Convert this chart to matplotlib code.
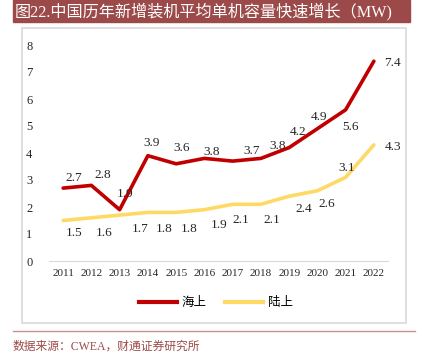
import matplotlib
matplotlib.use("Agg")
from matplotlib import pyplot as plt
from matplotlib.patches import Rectangle
from matplotlib.lines import Line2D

plt.rcParams['font.family'] = ['Liberation Serif', 'Noto Sans CJK SC']

years = ["2011", "2012", "2013", "2014", "2015", "2016",
         "2017", "2018", "2019", "2020", "2021", "2022"]
offshore = [2.7, 2.8, 1.9, 3.9, 3.6, 3.8, 3.7, 3.8, 4.2, 4.9, 5.6, 7.4]
onshore = [1.5, 1.6, 1.7, 1.8, 1.8, 1.9, 2.1, 2.1, 2.4, 2.6, 3.1, 4.3]
yticks = [0, 1, 2, 3, 4, 5, 6, 7, 8]

# label offsets in pixels (as placed in the original chart)
off_red = [(11, 10), (11, 10), (5, 16), (4, 13), (5, 16), (7, 6),
           (19, 10), (17, 12), (9, 16), (2, 12), (5, -17), (19, -2)]
off_yel = [(11, -12), (13, -15), (21, -14), (16, -17), (13, -17), (15, -15),
           (8, -16), (11, -16), (15, -13), (9, -13), (1, 9), (19, -2)]

W, H = 423, 355
fig = plt.figure(figsize=(W / 100, H / 100), dpi=100)

# title bar
fig.patches.append(Rectangle((13 / W, 1 - 22 / H), 397 / W, 22 / H,
                             transform=fig.transFigure, color="#9c4a49", zorder=0))
fig.text(15 / W, 1 - 11.5 / H, "图22.中国历年新增装机平均单机容量快速增长（MW)",
         color="white", fontsize=11.6, va="center", ha="left")

# chart frame
fig.patches.append(Rectangle((22 / W, 1 - 323 / H), 384 / W, 295 / H,
                             transform=fig.transFigure, fill=False,
                             edgecolor="#d9d9d9", linewidth=1.2, zorder=0))

ax = fig.add_axes([49 / W, 1 - 261 / H, 339 / W, 216 / H])
x = list(range(len(years)))
ax.plot(x, offshore, color="#c00000", linewidth=2.6, solid_capstyle="round")
ax.plot(x, onshore, color="#ffd966", linewidth=2.6, solid_capstyle="round")

for i, v in enumerate(offshore):
    ax.annotate(f"{v}", (i, v), xytext=off_red[i], textcoords="offset pixels",
                ha="center", va="center", fontsize=9.5, color="#262626")
for i, v in enumerate(onshore):
    ax.annotate(f"{v}", (i, v), xytext=off_yel[i], textcoords="offset pixels",
                ha="center", va="center", fontsize=9.5, color="#262626")

ax.set_xlim(-0.5, len(years) - 0.5)
ax.set_ylim(0, 8)
ax.set_xticks(x)
ax.set_xticklabels(years, fontsize=8)
ax.set_yticks(yticks)
ax.set_yticklabels([str(t) for t in yticks], fontsize=9)
for s in ["top", "right", "left"]:
    ax.spines[s].set_visible(False)
ax.spines["bottom"].set_color("#d9d9d9")
ax.tick_params(axis="both", length=0, colors="#262626")
ax.tick_params(axis="y", pad=12)
ax.tick_params(axis="x", pad=6)

handles = [Line2D([], [], color="#c00000", linewidth=3),
           Line2D([], [], color="#ffd966", linewidth=3)]
fig.legend(handles, ["海上", "陆上"], loc="center", bbox_to_anchor=(216 / W, 1 - 303 / H),
           ncol=2, frameon=False, fontsize=9, handlelength=3.0, columnspacing=1.5,
           handletextpad=0.4)

# source line
fig.add_artist(Line2D([13 / W, 415 / W], [1 - 331 / H, 1 - 331 / H],
                      transform=fig.transFigure, color="#c9908f", linewidth=1))
fig.text(13 / W, 1 - 347 / H, "数据来源：CWEA，财通证券研究所", color="#9c4a49",
         fontsize=8.5, va="center", ha="left")

fig.savefig("out.png", dpi=100)
